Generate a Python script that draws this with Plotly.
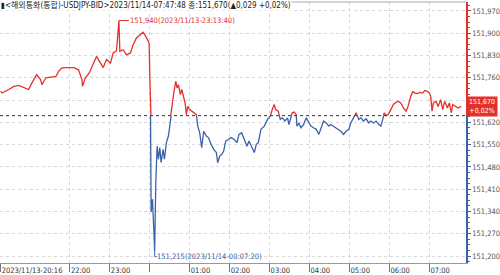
import plotly.graph_objects as go

# ---------------- data ----------------
times = [
    "20:16", "20:18", "20:28", "20:36", "20:43", "20:51", "20:58", "21:03", "21:10", "21:16",
    "21:18", "21:24", "21:31", "21:39", "21:43", "21:48", "21:55", "22:06", "22:13", "22:18",
    "22:19", "22:23", "22:29", "22:35", "22:40", "22:46", "22:50", "22:55", "23:01", "23:05",
    "23:10", "23:13:40", "23:15", "23:20", "23:25", "23:31", "23:35", "23:40", "23:46", "23:50",
    "23:55", "23:59", "00:00", "00:01", "00:02", "00:04", "00:06", "00:07:20", "00:09", "00:10",
    "00:11", "00:13", "00:15", "00:17", "00:20", "00:22", "00:25", "00:28", "00:31", "00:33",
    "00:36", "00:39", "00:41", "00:43", "00:46", "00:48", "00:51", "00:53", "00:55", "00:57",
    "01:00", "01:03", "01:06", "01:10", "01:12", "01:15", "01:18", "01:21", "01:25", "01:28",
    "01:32", "01:36", "01:40", "01:42", "01:45", "01:48", "01:51", "01:54", "01:58", "02:02",
    "02:07", "02:11", "02:14", "02:18", "02:22", "02:26", "02:29", "02:33", "02:37", "02:40",
    "02:43", "02:47", "02:52", "02:57", "03:01", "03:04", "03:07", "03:09", "03:13", "03:16",
    "03:19", "03:23", "03:27", "03:29", "03:32", "03:34", "03:37", "03:40", "03:41", "03:44",
    "03:47", "03:51", "03:55", "03:59", "04:02", "04:06", "04:10", "04:14", "04:17", "04:21",
    "04:25", "04:29", "04:32", "04:36", "04:40", "04:44", "04:47", "04:51", "04:55", "04:59",
    "05:02", "05:06", "05:10", "05:14", "05:17", "05:21", "05:25", "05:29", "05:32", "05:36",
    "05:40", "05:44", "05:47", "05:50", "05:52", "05:55", "05:58", "06:02", "06:06", "06:10",
    "06:13", "06:17", "06:21", "06:25", "06:28", "06:32", "06:35", "06:38", "06:42", "06:46",
    "06:50", "06:53", "06:57", "07:00", "07:02", "07:04", "07:06", "07:10", "07:13", "07:17",
    "07:20", "07:23", "07:27", "07:30", "07:33", "07:35", "07:39", "07:43", "07:47:48",
]
prices = [
    151.717, 151.712, 151.723, 151.733, 151.736, 151.730, 151.723, 151.744, 151.770, 151.754,
    151.738, 151.760, 151.761, 151.764, 151.780, 151.791, 151.792, 151.792, 151.785, 151.754,
    151.733, 151.759, 151.775, 151.801, 151.827, 151.806, 151.792, 151.817, 151.806, 151.838,
    151.845, 151.940, 151.843, 151.848, 151.832, 151.838, 151.864, 151.885, 151.895, 151.903,
    151.886, 151.869, 151.770, 151.682, 151.338, 151.378, 151.284, 151.215, 151.432, 151.494,
    151.545, 151.504, 151.541, 151.494, 151.535, 151.504, 151.557, 151.577, 151.634, 151.670,
    151.712, 151.749, 151.728, 151.738, 151.707, 151.723, 151.691, 151.681, 151.644, 151.670,
    151.660, 151.655, 151.650, 151.644, 151.608, 151.587, 151.540, 151.592, 151.577, 151.572,
    151.551, 151.535, 151.525, 151.493, 151.514, 151.519, 151.530, 151.561, 151.566, 151.572,
    151.566, 151.556, 151.582, 151.587, 151.566, 151.545, 151.561, 151.540, 151.525, 151.551,
    151.556, 151.598, 151.608, 151.629, 151.639, 151.660, 151.676, 151.660, 151.655, 151.629,
    151.634, 151.624, 151.634, 151.613, 151.634, 151.650, 151.652, 151.644, 151.608, 151.618,
    151.603, 151.613, 151.634, 151.618, 151.608, 151.603, 151.598, 151.582, 151.603, 151.624,
    151.618, 151.608, 151.613, 151.608, 151.603, 151.598, 151.592, 151.582, 151.592, 151.598,
    151.618, 151.634, 151.650, 151.629, 151.634, 151.624, 151.631, 151.618, 151.624, 151.618,
    151.624, 151.613, 151.608, 151.629, 151.650, 151.641, 151.644, 151.660, 151.676, 151.683,
    151.686, 151.681, 151.665, 151.655, 151.670, 151.702, 151.717, 151.712, 151.710, 151.714,
    151.712, 151.720, 151.717, 151.712, 151.702, 151.655, 151.681, 151.686, 151.670, 151.691,
    151.660, 151.686, 151.665, 151.681, 151.650, 151.676, 151.670, 151.665, 151.670,
]

prev_close = 151.641
last_price = 151.670
change = 0.029
change_pct = 0.02
high_time, high_price = "2023-11-13 23:13:40", 151.940
low_time, low_price = "2023-11-14 00:07:20", 151.215

# 151,690 sits behind the current-price box in the reference, so its label is blank
y_ticks_top = [151.690, 151.760, 151.830, 151.900, 151.970]
y_labels_top = ["", "151,760", "151,830", "151,900", "151,970"]
y_ticks_bottom = [151.200, 151.270, 151.340, 151.410, 151.480, 151.550, 151.620]
y_labels_bottom = ["151,200", "151,270", "151,340", "151,410", "151,480", "151,550", "151,620"]
x_tick_times = ["2023-11-13 20:16", "2023-11-13 22:00", "2023-11-13 23:00", "2023-11-14 00:00",
                "2023-11-14 01:00", "2023-11-14 02:00", "2023-11-14 03:00", "2023-11-14 04:00",
                "2023-11-14 05:00", "2023-11-14 06:00", "2023-11-14 07:00"]
x_tick_labels = ["2023/11/13-20:16", "22:00", "23:00", "", "01:00", "02:00", "03:00", "04:00",
                 "05:00", "06:00", "07:00"]

# ---------------- styling ----------------
RED = "#e5302a"
BLUE = "#3a62a8"
GRID = "#d8d8d8"
FONT = "Liberation Sans Narrow, DejaVu Sans Condensed, Arial Narrow, sans-serif"
y_min, y_max = 151.178, 151.998
x_min, x_max = "2023-11-13 20:15", "2023-11-14 07:55"


def fmt(v, d=3):
    return f"{v:.{d}f}".replace(".", ",")


full_times = [("2023-11-13 " if t >= "12" else "2023-11-14 ") + t for t in times]
split = (prev_close - y_min) / (y_max - y_min)

fig = go.Figure()
fig.add_trace(go.Scatter(x=full_times, y=prices, mode="lines", xaxis="x", yaxis="y",
                         line=dict(color=RED, width=1.3), hoverinfo="skip"))
fig.add_trace(go.Scatter(x=full_times, y=prices, mode="lines", xaxis="x", yaxis="y2",
                         line=dict(color=BLUE, width=1.3), hoverinfo="skip"))

common_y = dict(side="right", showline=True, linewidth=1.5, ticks="outside", ticklen=3,
                showgrid=True, gridcolor=GRID, griddash="dot", gridwidth=1, zeroline=False,
                tickfont=dict(family=FONT, size=7.5, color="#555"), anchor="x", fixedrange=True)

fig.update_layout(
    width=500, height=275,
    margin=dict(l=0, r=30, t=2, b=11),
    paper_bgcolor="white", plot_bgcolor="white",
    showlegend=False,
    xaxis=dict(type="date", range=[x_min, x_max], anchor="y2",
               tickvals=x_tick_times, ticktext=x_tick_labels,
               ticks="outside", ticklen=8, tickcolor="#777", ticklabelposition="outside right",
               showline=True, linecolor="#999", linewidth=1,
               showgrid=True, gridcolor=GRID, griddash="dot", gridwidth=1,
               tickfont=dict(family=FONT, size=7.5, color="#333"), fixedrange=True),
    yaxis=dict(domain=[split, 1], range=[prev_close, y_max],
               tickvals=y_ticks_top, ticktext=y_labels_top,
               linecolor=RED, tickcolor=RED,
               minor=dict(ticks="outside", ticklen=2, dtick=0.0175, tick0=151.2, tickcolor=RED, showgrid=False),
               **common_y),
    yaxis2=dict(domain=[0, split], range=[y_min, prev_close],
                tickvals=y_ticks_bottom, ticktext=y_labels_bottom,
                linecolor=BLUE, tickcolor=BLUE,
                minor=dict(ticks="outside", ticklen=2, dtick=0.0175, tick0=151.2, tickcolor=BLUE, showgrid=False),
                **common_y),
)

shapes = [
    # previous close reference line
    dict(type="line", xref="paper", yref="paper", x0=0, x1=1, y0=split, y1=split,
         line=dict(color="#333", width=1, dash="dot")),
    # top border
    dict(type="line", xref="paper", yref="paper", x0=0, x1=1, y0=1, y1=1,
         line=dict(color="#aaa", width=1)),
    # low leader (L shape)
    dict(type="line", xref="x", yref="y2", x0=low_time, x1=low_time, y0=low_price, y1=151.198,
         line=dict(color=BLUE, width=1)),
    dict(type="line", xref="x", yref="y2", x0=low_time, x1="2023-11-14 00:10", y0=151.198, y1=151.198,
         line=dict(color=BLUE, width=1)),
]
fig.update_layout(shapes=shapes)

title = (f"▮<해외통화(통합)-USDJPY-BID>2023/11/14-07:47:48 종:{fmt(last_price)}"
         f"(▲{fmt(change)} +{fmt(change_pct, 2)}%)")
annotations = [
    dict(text=title, xref="paper", yref="paper", x=0, y=1, xanchor="left", yanchor="middle",
         yshift=-3, showarrow=False, bgcolor="white", borderpad=0,
         font=dict(family=FONT + ", Noto Sans CJK KR", size=8, color="#222")),
    dict(text=f"{fmt(high_price)}({high_time.replace('-', '/').replace(' ', '-')})",
         x=high_time, y=high_price, xref="x", yref="y", xanchor="left", yanchor="middle",
         showarrow=True, arrowhead=0, arrowwidth=1, arrowcolor=RED, ax=10, ay=0,
         font=dict(family=FONT, size=7.5, color=RED), borderpad=0),
    dict(text=f"{fmt(low_price)}({low_time.replace('-', '/').replace(' ', '-')})",
         x="2023-11-14 00:10", y=151.198, xref="x", yref="y2", xanchor="left", yanchor="middle",
         showarrow=False, font=dict(family=FONT, size=7.5, color=BLUE), borderpad=0),
    dict(text=f"{fmt(last_price)}<br>+{fmt(change_pct, 2)}%", xref="paper", yref="y",
         x=1, y=last_price, xanchor="left", yanchor="middle", showarrow=False,
         bgcolor=RED, width=28, borderpad=1, align="center",
         font=dict(family=FONT, size=7, color="white")),
]
fig.update_layout(annotations=annotations)

fig.write_html("out.html")
